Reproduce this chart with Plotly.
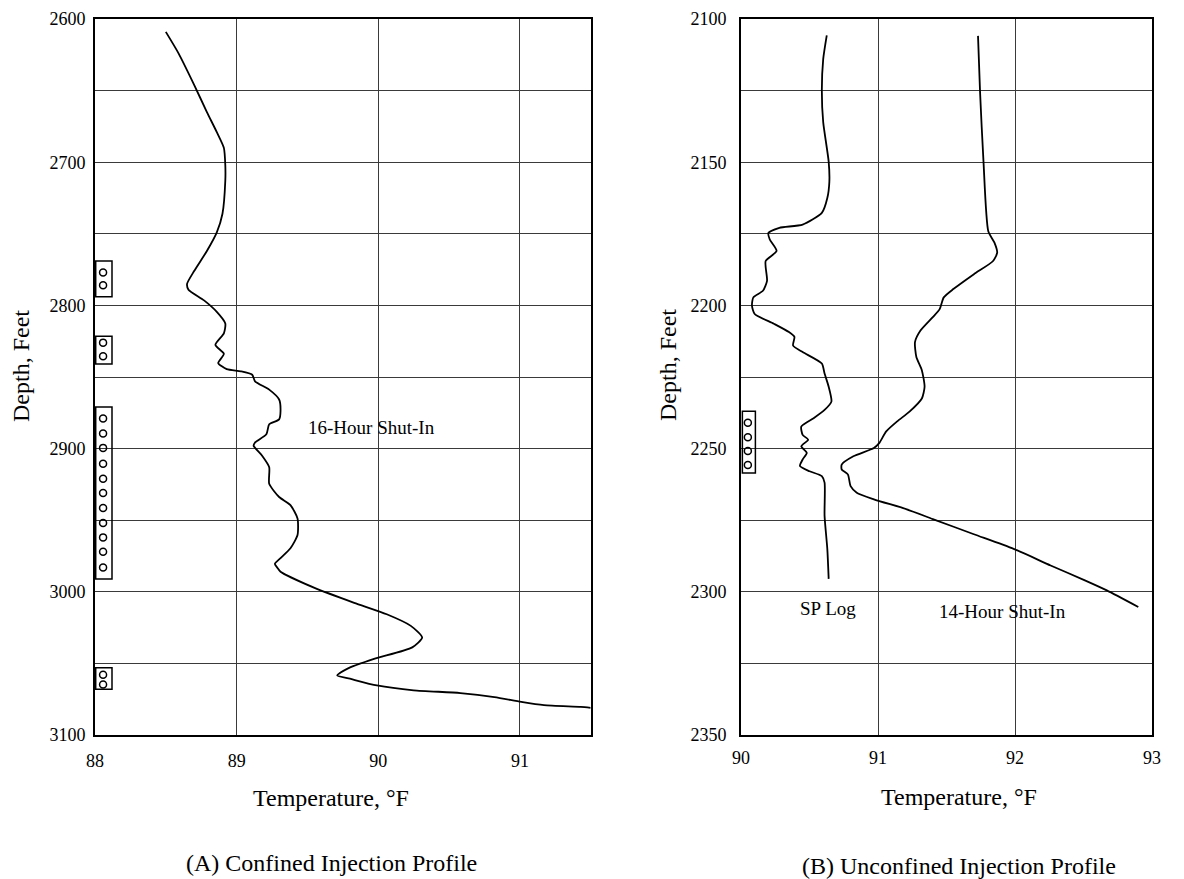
import plotly.graph_objects as go

# ---------------- Data: (A) Confined injection profile ----------------
temp_A = [88.50, 88.59, 88.70, 88.79, 88.86, 88.91, 88.92, 88.92, 88.90, 88.86,
          88.79, 88.70, 88.65, 88.66, 88.77, 88.86, 88.92, 88.91, 88.85, 88.91,
          88.87, 88.93, 89.03, 89.11, 89.13, 89.23, 89.30, 89.31, 89.30, 89.23,
          89.21, 89.13, 89.12, 89.18, 89.23, 89.23, 89.30, 89.38, 89.43, 89.43,
          89.38, 89.31, 89.27, 89.29, 89.31, 89.55, 89.83, 90.06, 90.23, 90.31,
          90.24, 89.97, 89.78, 89.71, 89.80, 89.99, 90.25, 90.58, 90.82, 91.01,
          91.17, 91.43, 91.50]
depth_A = [2609, 2624, 2646, 2665, 2679, 2690, 2702, 2713, 2736, 2749,
           2762, 2776, 2785, 2789, 2796.5, 2804.5, 2812.6, 2819.5, 2827.6, 2833.8,
           2840.3, 2844.5, 2846, 2848.4, 2853, 2858.8, 2865.7, 2873.8, 2879.6, 2883,
           2890, 2895.7, 2898, 2905, 2913, 2924.6, 2933.8, 2939.5, 2948.8, 2960.3,
           2969.6, 2976.5, 2980.5, 2983.5, 2986, 2997.3, 3007.7, 3015.7, 3023.8, 3031.9,
           3038.8, 3046.9, 3053.8, 3058.4, 3060.7, 3065.4, 3068.8, 3070.7, 3073.5, 3076.9,
           3079.2, 3080.4, 3081]

perf_top_A = [2769, 2821.6, 2871, 3053]
perf_bot_A = [2794, 2841, 2991, 3068]
holes_A = [2777, 2786, 2826, 2835.5,
           2879, 2889.5, 2899.5, 2910.5, 2921, 2931, 2941.5, 2952, 2962, 2972, 2983,
           3058, 3064.7]

# ---------------- Data: (B) Unconfined injection profile ----------------
sp_temp = [90.626, 90.60, 90.59, 90.60, 90.64, 90.645, 90.63, 90.59, 90.45, 90.28,
           90.20, 90.21, 90.26, 90.18, 90.19, 90.16, 90.09, 90.08, 90.10, 90.24,
           90.35, 90.39, 90.38, 90.45, 90.59, 90.61, 90.64, 90.66, 90.61, 90.53,
           90.44, 90.45, 90.49, 90.44, 90.48, 90.45, 90.43, 90.50, 90.59, 90.61,
           90.61, 90.63, 90.64]
sp_depth = [2105.7, 2114, 2125, 2136, 2149.8, 2156.8, 2162.5, 2167.7, 2171.8, 2172.9,
            2174.7, 2177, 2181, 2184.5, 2191.4, 2194.9, 2197.2, 2200.1, 2203, 2206.4,
            2209.3, 2211, 2214, 2216.3, 2220.3, 2223.8, 2228.4, 2233.6, 2236.5, 2239.4,
            2242.3, 2245.2, 2246.9, 2249.2, 2251.5, 2253.8, 2256.1, 2257.9, 2259.6, 2261.9,
            2273.5, 2285, 2295.5]

shut_temp = [91.73, 91.745, 91.77, 91.805, 91.85, 91.87, 91.84, 91.70, 91.55, 91.48,
             91.45, 91.40, 91.31, 91.27, 91.28, 91.32, 91.34, 91.32, 91.23, 91.14,
             91.06, 91.01, 90.97, 90.82, 90.735, 90.735, 90.78, 90.80, 90.845, 90.97,
             91.21, 91.40, 91.70, 91.99, 92.26, 92.51, 92.67, 92.90]
shut_depth = [2105.9, 2125.6, 2149.8, 2174.1, 2178.1, 2181.6, 2184.5, 2189.1, 2194.3, 2197.2,
              2201.3, 2204.1, 2208.8, 2212.8, 2218, 2222.6, 2228.4, 2232.5, 2237.1, 2240.5,
              2244, 2248, 2249.8, 2252.7, 2255.6, 2257.3, 2259, 2263.1, 2265.4, 2267.7,
              2271.2, 2274.6, 2279.9, 2285, 2290.8, 2296, 2299.5, 2305.3]

perf_top_B = [2237]
perf_bot_B = [2258.5]
holes_B = [2241, 2246, 2250.8, 2255.7]

# ---------------- Figure ----------------
FONT = "Liberation Serif, Times New Roman, serif"
W, H = 1184, 879
OFF = 8  # page body margin: convert page pixels to figure pixels


def px(p):
    return (p - OFF) / W


def py(p):
    return 1 - (p - OFF) / H


fig = go.Figure()

line_style = dict(color="black", width=1.8, shape="spline", smoothing=0.6)

fig.add_trace(go.Scatter(x=temp_A, y=depth_A, mode="lines", line=line_style,
                         xaxis="x", yaxis="y", showlegend=False, hoverinfo="skip"))
fig.add_trace(go.Scatter(x=sp_temp, y=sp_depth, mode="lines", line=line_style,
                         xaxis="x2", yaxis="y2", showlegend=False, hoverinfo="skip"))
fig.add_trace(go.Scatter(x=shut_temp, y=shut_depth, mode="lines", line=line_style,
                         xaxis="x2", yaxis="y2", showlegend=False, hoverinfo="skip"))

# perforation holes
hole_marker = dict(symbol="circle-open", size=7, color="black", line=dict(width=1.5, color="black"))
fig.add_trace(go.Scatter(x=[88.057] * len(holes_A), y=holes_A, mode="markers",
                         marker=hole_marker, xaxis="x", yaxis="y",
                         showlegend=False, hoverinfo="skip", cliponaxis=False))
fig.add_trace(go.Scatter(x=[90.05] * len(holes_B), y=holes_B, mode="markers",
                         marker=hole_marker, xaxis="x2", yaxis="y2",
                         showlegend=False, hoverinfo="skip", cliponaxis=False))

shapes = []
for t, b in zip(perf_top_A, perf_bot_A):
    shapes.append(dict(type="rect", xref="x", yref="y", x0=88.005, x1=88.12, y0=t, y1=b,
                       line=dict(color="black", width=1.5), fillcolor="rgba(0,0,0,0)"))
for t, b in zip(perf_top_B, perf_bot_B):
    shapes.append(dict(type="rect", xref="x2", yref="y2", x0=90.01, x1=90.105, y0=t, y1=b,
                       line=dict(color="black", width=1.5), fillcolor="rgba(0,0,0,0)"))

grid_col = "#3a3a3a"
tickfont = dict(family=FONT, size=18, color="black")

common_x = dict(showgrid=True, gridcolor=grid_col, gridwidth=1, zeroline=False,
                showline=True, linecolor="black", linewidth=2, mirror=True,
                ticks="", dtick=1, automargin=False, ticklabeloverflow="allow")
common_y = dict(showgrid=True, gridcolor=grid_col, gridwidth=1, zeroline=False,
                showline=True, linecolor="black", linewidth=2, mirror=True,
                ticks="", automargin=False, ticklabeloverflow="allow")

ydom = [py(735), py(19)]

fig.update_layout(
    template="none",
    width=W, height=H,
    margin=dict(l=0, r=0, t=0, b=0),
    paper_bgcolor="white", plot_bgcolor="white",
    font=dict(family=FONT, size=18, color="black"),
    showlegend=False,
    xaxis=dict(common_x, domain=[px(95), px(590.7)], range=[88, 91.5], anchor="y",
               tickvals=[88, 89, 90, 91], ticklabelstandoff=8, tickfont=tickfont),
    yaxis=dict(common_y, domain=ydom, range=[3100, 2600], anchor="x",
               tickvals=[2600, 2700, 2800, 2900, 3000, 3100],
               minor=dict(dtick=50, tick0=2600, showgrid=True, gridcolor=grid_col, gridwidth=1, ticks=""),
               ticklabelstandoff=4, tickfont=tickfont),
    xaxis2=dict(common_x, domain=[px(741), px(1152)], range=[90, 93], anchor="y2",
                tickvals=[90, 91, 92, 93], ticklabelstandoff=5, tickfont=tickfont),
    yaxis2=dict(common_y, domain=ydom, range=[2350, 2100], anchor="x2",
                tickvals=[2100, 2150, 2200, 2250, 2300, 2350],
                minor=dict(dtick=25, tick0=2100, showgrid=True, gridcolor=grid_col, gridwidth=1, ticks=""),
                ticklabelstandoff=9, tickfont=tickfont),
    shapes=shapes,
)

title_font = dict(family=FONT, size=24, color="black")
label_font = dict(family=FONT, size=19, color="black")


def ann(x, y, text, font, xref="paper", yref="paper", angle=0):
    return dict(x=x, y=y, xref=xref, yref=yref, text=text, showarrow=False, font=font,
                xanchor="center", yanchor="middle", textangle=angle)


annotations = [
    # curve labels (data coords)
    ann(89.95, 2885.5, "16-Hour Shut-In", label_font, "x", "y"),
    ann(90.635, 2306, "SP Log", label_font, "x2", "y2"),
    ann(91.91, 2307, "14-Hour Shut-In", label_font, "x2", "y2"),
    # axis titles
    ann(px(21), py(366), "Depth, Feet", title_font, angle=-90),
    ann(px(668), py(365), "Depth, Feet", title_font, angle=-90),
    ann(px(331), py(798), "Temperature, °F", title_font),
    ann(px(959), py(797), "Temperature, °F", title_font),
    # captions
    ann(px(331), py(863), "(A) Confined Injection Profile", title_font),
    ann(px(959), py(866), "(B) Unconfined Injection Profile", title_font),
]
fig.update_layout(annotations=annotations)

fig.write_html("out.html")
